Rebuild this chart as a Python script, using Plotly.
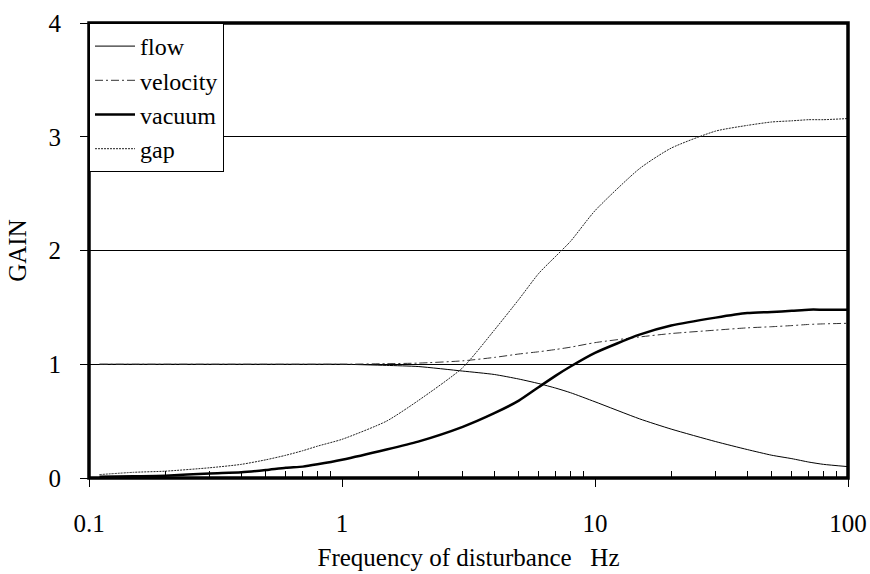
import plotly.graph_objects as go

freq = [0.11, 0.15, 0.2, 0.3, 0.4, 0.5, 0.6, 0.7, 0.8, 1, 1.5, 2, 3, 4, 5, 6, 7, 8,
        10, 15, 20, 30, 40, 50, 60, 70, 80, 100]
flow = [1.0, 1.0, 1.0, 1.0, 1.0, 1.0, 1.0, 1.0, 1.0, 1.0, 0.99, 0.98, 0.94, 0.91, 0.87,
        0.83, 0.79, 0.75, 0.67, 0.52, 0.43, 0.32, 0.25, 0.2, 0.17, 0.14, 0.12, 0.1]
velocity = [1.0, 1.0, 1.0, 1.0, 1.0, 1.0, 1.0, 1.0, 1.0, 1.0, 1.005, 1.01, 1.03, 1.06,
            1.09, 1.11, 1.13, 1.15, 1.19, 1.24, 1.27, 1.3, 1.32, 1.33, 1.34, 1.35, 1.355, 1.36]
vacuum = [0.01, 0.015, 0.02, 0.04, 0.05, 0.07, 0.09, 0.1, 0.12, 0.16, 0.25, 0.32, 0.45,
          0.57, 0.68, 0.8, 0.9, 0.98, 1.1, 1.26, 1.34, 1.41, 1.45, 1.46, 1.47, 1.48, 1.48, 1.48]
gap = [0.03, 0.05, 0.06, 0.09, 0.12, 0.16, 0.2, 0.24, 0.28, 0.34, 0.5, 0.68, 0.97, 1.3,
       1.57, 1.8, 1.95, 2.08, 2.35, 2.72, 2.9, 3.05, 3.1, 3.13, 3.14, 3.15, 3.15, 3.16]

x_ticks = [0.1, 1, 10, 100]
x_ticklabels = ["0.1", "1", "10", "100"]
x_minor = [m * d for d in (0.1, 1, 10) for m in range(2, 10)]
y_ticks = [0, 1, 2, 3, 4]

FONT = "Liberation Serif"

fig = go.Figure()
fig.add_trace(go.Scatter(x=freq, y=flow, name="flow", mode="lines",
                         line=dict(color="black", width=1, shape="spline", smoothing=0.6)))
fig.add_trace(go.Scatter(x=freq, y=velocity, name="velocity", mode="lines",
                         line=dict(color="#333", width=1, dash="8px,3px,2px,3px",
                                   shape="spline", smoothing=0.6)))
fig.add_trace(go.Scatter(x=freq, y=vacuum, name="vacuum", mode="lines",
                         line=dict(color="black", width=2.5, shape="spline", smoothing=0.6)))
fig.add_trace(go.Scatter(x=freq, y=gap, name="gap", mode="lines",
                         line=dict(color="#222", width=1, dash="2px,1px",
                                   shape="spline", smoothing=0.6)))

fig.update_layout(
    width=870, height=574,
    margin=dict(l=89, r=22, t=23, b=96),
    paper_bgcolor="white", plot_bgcolor="white",
    font=dict(family=FONT, size=25, color="black"),
    showlegend=True,
    legend=dict(x=0, y=1, xanchor="left", yanchor="top",
                bgcolor="white", bordercolor="black", borderwidth=1,
                font=dict(family=FONT, size=24, color="black"),
                itemwidth=40, tracegroupgap=0),
    xaxis=dict(type="log", range=[-1, 2], tickvals=x_ticks, ticktext=x_ticklabels,
               ticks="outside", ticklen=8, tickcolor="black", tickwidth=1,
               showgrid=False, zeroline=False, showline=False, automargin=False,
               ticklabelstandoff=15,
               tickfont=dict(family=FONT, size=25),
               minor=dict(tickvals=x_minor, ticks="inside", ticklen=7,
                          tickcolor="black", tickwidth=1, showgrid=False),
               title=dict(text="Frequency of disturbance\u00a0\u00a0\u00a0Hz", standoff=12,
                          font=dict(family=FONT, size=25))),
    yaxis=dict(range=[0, 4], tickvals=y_ticks, ticks="outside", ticklen=8,
               tickcolor="black", tickwidth=1, showline=False, zeroline=False,
               showgrid=True, gridcolor="black", gridwidth=1, automargin=False,
               ticklabelstandoff=14,
               tickfont=dict(family=FONT, size=25),
               title=dict(text="GAIN", standoff=14, font=dict(family=FONT, size=25))),
)

fig.add_shape(type="rect", xref="paper", yref="paper", x0=0, x1=1, y0=0, y1=1,
              line=dict(color="black", width=3.5), layer="above")

fig.write_html("out.html")
